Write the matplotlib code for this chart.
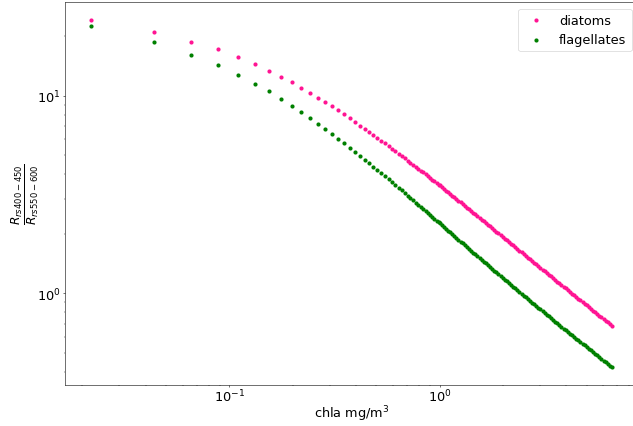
import matplotlib
matplotlib.use('Agg')
import matplotlib.pyplot as plt

# chlorophyll-a concentration (mg/m^3)
chla = [0.022, 0.044, 0.066, 0.088, 0.110, 0.132, 0.154, 0.176, 0.198, 0.220,
        0.242, 0.264, 0.286, 0.308, 0.330, 0.352, 0.374, 0.396, 0.418, 0.440,
        0.462, 0.484, 0.506, 0.528, 0.550, 0.572, 0.594, 0.616, 0.638, 0.660,
        0.682, 0.704, 0.726, 0.748, 0.770, 0.792, 0.814, 0.836, 0.858, 0.880,
        0.902, 0.924, 0.946, 0.968, 0.990,
        1.000, 1.023, 1.047, 1.072, 1.096, 1.122, 1.148, 1.175, 1.202, 1.230,
        1.259, 1.288, 1.318, 1.349, 1.380, 1.413, 1.445, 1.479, 1.514, 1.549,
        1.585, 1.622, 1.660, 1.698, 1.738, 1.778, 1.820, 1.862, 1.905, 1.950,
        1.995, 2.042, 2.089, 2.138, 2.188, 2.239, 2.291, 2.344, 2.399, 2.455,
        2.512, 2.570, 2.630, 2.692, 2.754, 2.818, 2.884, 2.951, 3.020, 3.090,
        3.162, 3.236, 3.311, 3.388, 3.467, 3.548, 3.631, 3.715, 3.802, 3.890,
        3.981, 4.074, 4.169, 4.266, 4.365, 4.467, 4.571, 4.677, 4.786, 4.898,
        5.012, 5.129, 5.248, 5.370, 5.495, 5.623, 5.754, 5.888, 6.026, 6.166,
        6.310, 6.457, 6.607]

# band ratio Rrs(400-450) / Rrs(550-600)
diatoms = [24.2, 21.0, 18.7, 17.1, 15.6, 14.4, 13.3, 12.4, 11.7, 10.9,
           10.3, 9.77, 9.29, 8.83, 8.41, 8.02, 7.67, 7.35, 7.05, 6.78,
           6.54, 6.31, 6.10, 5.90, 5.72, 5.54, 5.38, 5.23, 5.08, 4.95,
           4.82, 4.69, 4.58, 4.47, 4.36, 4.26, 4.17, 4.08, 3.99, 3.90,
           3.83, 3.75, 3.68, 3.60, 3.54,
           3.506, 3.437, 3.370, 3.304, 3.239, 3.175, 3.113, 3.052, 2.992, 2.934,
           2.876, 2.819, 2.764, 2.710, 2.657, 2.605, 2.554, 2.504, 2.455, 2.407,
           2.359, 2.312, 2.266, 2.221, 2.177, 2.133, 2.090, 2.049, 2.008, 1.968,
           1.929, 1.890, 1.853, 1.816, 1.779, 1.744, 1.709, 1.676, 1.642, 1.609,
           1.577, 1.546, 1.515, 1.485, 1.455, 1.427, 1.398, 1.371, 1.343, 1.317,
           1.290, 1.265, 1.240, 1.215, 1.191, 1.168, 1.144, 1.122, 1.100, 1.078,
           1.056, 1.036, 1.015, 0.995, 0.976, 0.957, 0.938, 0.920, 0.902, 0.884,
           0.867, 0.850, 0.833, 0.817, 0.801, 0.785, 0.770, 0.754, 0.740, 0.725,
           0.711, 0.697, 0.683]

flagellates = [22.6, 18.7, 16.1, 14.2, 12.7, 11.5, 10.5, 9.59, 8.87, 8.24,
               7.68, 7.18, 6.75, 6.39, 6.03, 5.73, 5.43, 5.20, 4.96, 4.74,
               4.55, 4.37, 4.20, 4.05, 3.90, 3.77, 3.64, 3.52, 3.41, 3.31,
               3.21, 3.12, 3.03, 2.95, 2.87, 2.80, 2.73, 2.66, 2.60, 2.54,
               2.48, 2.43, 2.38, 2.33, 2.28,
               2.257, 2.209, 2.162, 2.116, 2.072, 2.028, 1.986, 1.943, 1.903, 1.863,
               1.824, 1.785, 1.748, 1.710, 1.675, 1.640, 1.605, 1.571, 1.538, 1.505,
               1.473, 1.444, 1.414, 1.384, 1.356, 1.328, 1.300, 1.274, 1.247, 1.221,
               1.197, 1.172, 1.148, 1.124, 1.101, 1.078, 1.056, 1.034, 1.013, 0.992,
               0.971, 0.952, 0.933, 0.914, 0.896, 0.878, 0.861, 0.844, 0.827, 0.810,
               0.794, 0.778, 0.763, 0.748, 0.733, 0.718, 0.704, 0.690, 0.676, 0.662,
               0.649, 0.637, 0.624, 0.612, 0.600, 0.589, 0.577, 0.566, 0.555, 0.544,
               0.534, 0.523, 0.513, 0.503, 0.494, 0.484, 0.475, 0.465, 0.456, 0.448,
               0.439, 0.430, 0.422]

plt.rcParams['font.size'] = 18.5

# low dpi render: thin grey spines, short ticks, like the original
DPI = 50
fig = plt.figure(figsize=(633/DPI, 427/DPI), dpi=DPI)
# axes run slightly past the right edge of the image, as in the original
ax = fig.add_axes([65/633, 41.4/427, 573/633, 382.3/427])

ax.scatter(chla, diatoms, s=36, color='deeppink', linewidths=0, label='diatoms')
ax.scatter(chla, flagellates, s=36, color='green', linewidths=0, label='flagellates')
ax.set_xscale('log')
ax.set_yscale('log')
ax.tick_params(axis='x', which='major', pad=1)

ax.set_xlabel('chla mg/m$^3$', labelpad=-1)
ax.set_ylabel(r'$\frac{R_{rs400-450}}{R_{rs550-600}}$', fontsize=25, labelpad=-6)
ax.legend(loc='upper right')

fig.savefig('out.png', dpi=DPI)
